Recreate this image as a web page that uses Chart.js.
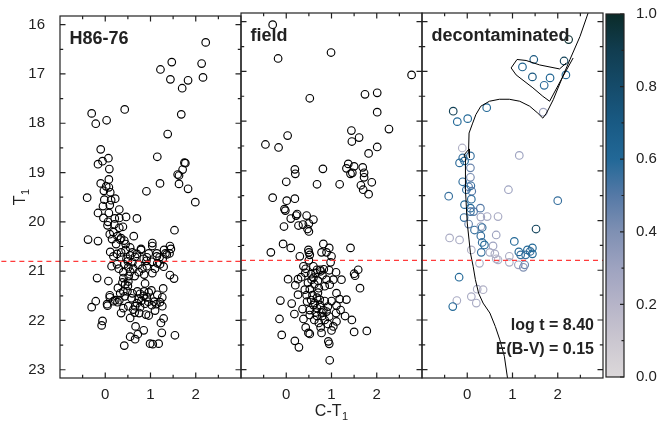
<!DOCTYPE html>
<html><head><meta charset="utf-8">
<script src="https://cdn.jsdelivr.net/npm/chart.js@4.4.1/dist/chart.umd.min.js"></script>
<style>
html,body{margin:0;padding:0;background:#fff;}
#wrap{position:relative;width:661px;height:421px;overflow:hidden;background:#fff;}
#wrap canvas{position:absolute;left:0;top:0;}
</style></head><body>
<div id="wrap">
<canvas id="p1" width="661" height="421"></canvas>
<canvas id="p2" width="661" height="421"></canvas>
<canvas id="p3" width="661" height="421"></canvas>
<canvas id="cb" width="661" height="421"></canvas>
</div>
<script>
// ---------------- DATA ----------------
const T1_CUT = 20.8;
const panelTitles = ['H86-76', 'field', 'decontaminated'];
const fitLabels = ['log t = 8.40', 'E(B-V) = 0.15'];
const xTickValues = [0, 1, 2];
const yTickValues = [16, 17, 18, 19, 20, 21, 22, 23];
const cbTickValues = [0, 0.2, 0.4, 0.6, 0.8, 1.0];

// cluster field (C-T1, T1)
const clusterStars = [
[2.22,16.36],[1.47,16.76],[1.22,16.91],[2.13,16.79],[1.44,17.11],[1.83,17.13],[2.16,17.07],[1.70,17.29],
[-0.30,17.80],[-0.21,18.01],[0.03,17.94],[0.43,17.72],[1.68,17.82],[1.38,18.22],
[-0.10,18.53],[-0.16,18.83],[-0.06,18.77],[0.07,18.71],[0.09,18.93],[1.15,18.68],[1.75,18.80],[1.77,18.81],
[1.71,18.94],[1.60,19.04],[1.63,19.06],[1.21,19.22],[1.63,19.23],[1.83,19.33],
[-0.10,19.22],[0.08,19.14],[0.08,19.30],[-0.03,19.37],[0.11,19.40],[0.91,19.38],[1.99,19.60],[-0.40,19.51],
[0.22,19.53],[0.13,19.56],[0.31,19.75],
[-0.05,19.68],[0.10,19.66],[-0.16,19.82],[-0.04,19.92],[0.06,20.00],[0.21,19.93],[0.31,19.92],[0.46,19.90],
[0.05,20.07],[0.18,20.21],[0.31,20.12],[0.39,20.10],[0.70,19.93],[-0.38,20.36],[-0.16,20.39],[0.63,20.29],
[0.27,20.29],[0.35,20.33],[1.53,20.17],[1.04,20.43],[1.04,20.49],[1.43,20.49],[1.30,20.57],[1.14,20.64],
[1.33,20.64],[1.42,20.64],[1.27,20.75],[1.15,20.84],[1.29,20.91],[0.11,20.61],[0.26,20.65],[0.35,20.62],
[0.45,20.57],[0.55,20.52],[0.60,20.62],[0.79,20.57],[0.96,20.64],[0.66,20.71],[0.47,20.75],[0.26,20.86],
[0.42,20.86],[0.60,20.82],[0.73,20.87],[0.91,20.79],[1.03,20.81],[0.92,20.90],[1.04,21.04],[0.74,21.02],
[0.55,21.01],[0.51,20.92],[0.40,21.02],[0.86,21.07],[1.43,21.08],[1.52,21.15],[-0.18,21.14],[0.07,21.20],
[0.40,21.14],[0.38,21.23],[0.44,21.27],[0.51,21.21],[0.28,21.34],[0.40,21.41],[0.49,21.41],[0.43,21.51],
[0.71,21.41],[0.77,21.46],[0.86,21.41],[0.96,21.43],[1.02,21.39],[1.28,21.35],[0.74,21.56],[0.92,21.53],
[1.26,21.53],[1.21,21.63],[0.10,21.53],[0.18,21.61],[0.27,21.63],[-0.21,21.61],[-0.30,21.73],[0.05,21.70],
[0.51,21.71],[0.66,21.71],[0.77,21.73],[0.88,21.66],[1.03,21.69],[1.13,21.67],[1.26,21.71],[0.65,21.84],
[0.90,21.88],[0.96,21.90],[-0.06,22.01],[-0.08,22.10],[1.29,21.96],[1.23,22.05],[0.67,22.12],[0.85,22.20],
[0.72,22.28],[1.25,22.25],[0.55,22.33],[0.66,22.38],[1.54,22.30],[0.42,22.51],[0.99,22.47],[1.05,22.48],
[1.18,22.47],
[0.33,20.36],[0.79,20.55],[1.45,20.55],[0.92,20.72],[1.14,20.70],[1.36,20.66],[1.21,20.86],
[0.10,21.49],[0.04,21.67],[0.22,21.59],[0.31,21.59],
[0.35,20.72],[0.50,20.80],[0.62,20.95],[0.82,20.95],[0.70,20.65],[0.55,20.68],[0.85,20.75],[0.65,21.10],
[0.60,21.45],[0.80,21.60],[0.70,21.65],[0.95,21.62],[0.58,21.55],[0.85,21.50],[0.62,21.78],[0.75,21.85],
[1.08,21.62],[0.52,21.10],[0.33,21.45],[0.30,20.95],[0.18,20.70],[0.50,21.30],[0.15,20.35],[0.20,20.05],
[0.08,19.82],[-0.02,19.55],[0.02,19.28],[0.10,20.25],[0.24,20.45],[0.42,20.38],[0.14,20.90],[1.10,20.95],
[1.20,20.72],[0.88,21.25],[1.15,21.48],[0.35,21.85],[0.55,21.95],[0.40,21.75],[1.10,21.80],[0.45,20.45]
];

// comparison field (C-T1, T1)
const fieldStars = [
[-0.30,16.06],[-0.18,16.74],[0.99,16.62],[2.77,17.07],[0.52,17.54],[1.74,17.46],[2.01,17.43],[2.01,17.82],
[1.44,18.19],[1.61,18.33],[1.45,18.41],[2.27,18.16],[2.01,18.52],[1.82,18.65],[0.03,18.29],[-0.46,18.47],
[-0.17,18.53],[0.19,18.97],[0.20,19.06],[0.81,18.96],
[1.37,18.86],[1.33,18.95],[1.50,18.91],[1.42,19.06],[1.69,18.93],[1.72,19.04],[1.72,19.13],[1.65,19.29],
[1.70,19.38],[1.89,19.23],[1.82,19.47],[1.46,19.04],
[0.00,19.22],[0.68,19.27],[1.18,19.27],[-0.30,19.54],[0.01,19.60],[0.19,19.56],[-0.04,19.77],
[-0.02,19.80],[0.10,19.96],[0.22,19.90],[0.45,19.90],[0.60,19.98],[-0.05,20.12],[0.27,20.10],[0.50,20.06],
[0.47,20.17],[0.50,20.22],[-0.07,20.47],[0.10,20.55],[-0.34,20.64],[0.30,20.72],[0.49,20.59],[0.50,20.64],
[0.52,20.69],[0.82,20.47],[0.95,20.55],[0.78,20.64],[0.89,20.64],[1.00,20.72],[1.42,20.55],[0.98,20.84],
[0.38,20.92],[0.43,20.97],[0.75,20.99],[0.68,20.99],[0.76,21.02],[0.83,20.98],[0.95,21.00],[1.10,21.04],
[0.04,21.18],[0.26,21.18],[0.33,21.14],[0.56,21.19],[0.70,21.21],[0.89,21.19],[1.04,21.19],[1.22,21.19],
[1.50,21.07],[1.59,20.99],[1.52,21.11],[1.63,21.36],[0.41,21.39],[0.52,21.38],[0.72,21.36],[0.96,21.29],
[1.11,21.46],[0.26,21.49],[-0.13,21.61],[0.12,21.67],[0.46,21.63],[0.63,21.66],[0.74,21.59],[0.92,21.73],
[1.11,21.71],[1.33,21.59],[1.18,21.58],[0.36,21.78],[0.52,21.80],[0.68,21.76],[0.89,21.83],[0.18,21.88],
[0.52,21.90],[0.68,21.92],[0.80,21.92],[0.95,21.93],[1.10,21.86],[1.30,21.92],[1.45,22.00],[-0.15,21.98],
[0.38,21.98],[0.72,22.06],[0.92,22.08],[1.11,22.03],[0.43,22.15],[0.49,22.26],[0.52,22.28],[0.78,22.26],
[1.00,22.21],[1.04,22.13],[0.76,22.15],[1.50,22.24],[1.78,22.22],[-0.10,22.30],[0.19,22.42],[0.28,22.55],
[0.93,22.43],[0.95,22.48],[0.96,22.81],
[0.24,19.87],[0.37,20.08],
[0.60,20.92],[0.65,21.05],[0.55,21.08],[0.80,21.10],[0.62,21.28],[0.48,21.25],[0.85,21.32],[0.58,21.50],
[0.68,21.55],[0.60,21.70],[0.75,21.70],[0.85,21.62],[0.65,21.85],[0.82,21.80],[0.55,21.60],[0.70,21.45],
[0.78,21.85],[1.00,21.62],[0.62,22.00],[0.85,22.00],[0.45,21.50],[1.20,21.80],[0.42,21.05],[0.50,20.80],
[0.20,21.30],[0.60,21.15]
];

// decontaminated (C-T1, T1, membership probability)
const deconStars = [
[2.24,16.36,0.98],[1.47,16.76,0.72],[1.22,16.91,0.64],[2.14,16.79,0.86],[1.44,17.11,0.72],[1.83,17.13,0.62],
[2.18,17.07,0.60],[1.70,17.28,0.58],[-0.31,17.80,0.88],[-0.22,18.01,0.60],[0.01,17.95,0.60],[0.43,17.73,0.60],
[1.68,17.82,0.30],[1.15,18.69,0.30],[-0.11,18.54,0.22],[-0.10,18.74,0.56],[-0.17,18.84,0.58],[-0.06,18.80,0.60],
[0.07,18.70,0.56],[0.07,18.94,0.45],[0.07,19.13,0.42],[-0.10,19.22,0.58],[0.03,19.32,0.50],[0.91,19.38,0.30],
[2.00,19.60,0.56],[-0.41,19.51,0.56],[0.09,19.57,0.58],[-0.06,19.68,0.60],[0.07,19.75,0.60],[0.29,19.75,0.50],
[0.08,19.30,0.55],[-0.02,19.38,0.58],[0.10,19.41,0.50],[0.07,19.82,0.55],[0.14,19.82,0.50],
[0.30,19.93,0.30],[0.44,19.92,0.26],[0.68,19.92,0.26],[-0.07,19.94,0.56],[0.03,20.07,0.45],[0.16,20.19,0.56],
[0.30,20.12,0.30],[0.33,20.14,0.56],[0.30,20.31,0.56],[0.33,20.44,0.56],[0.38,20.49,0.60],[0.31,20.64,0.56],
[0.64,20.29,0.30],[0.57,20.51,0.30],[0.61,20.67,0.25],[0.50,20.64,0.25],[0.64,20.77,0.22],[0.68,20.79,0.22],
[0.27,20.86,0.25],[0.09,20.59,0.22],[-0.39,20.35,0.25],[-0.17,20.39,0.25],
[1.52,20.17,0.85],[1.04,20.42,0.60],[1.14,20.63,0.60],[1.33,20.59,0.60],[1.44,20.55,0.60],[1.39,20.62,0.56],
[1.29,20.69,0.56],[1.44,20.67,0.60],[1.18,20.69,0.56],[0.93,20.72,0.25],[0.93,20.84,0.25],[1.13,20.89,0.30],
[1.27,20.89,0.45],[1.24,20.94,0.40],[-0.18,21.14,0.60],[0.22,21.38,0.25],[0.35,21.39,0.22],[0.09,21.53,0.25],
[0.20,21.66,0.25],[-0.23,21.61,0.25],[-0.32,21.73,0.60]
];

// isochrone (log t = 8.40): main sequence -> RGB, and He-burning loop / AGB
const isoMain = [
[0.93,23.40],[0.89,23.17],[0.82,22.73],[0.72,22.40],[0.62,22.13],[0.50,21.86],[0.35,21.66],[0.25,21.46],
[0.18,21.19],[0.13,20.92],[0.07,20.65],[0.04,20.39],[0.00,20.05],[-0.02,19.72],[-0.04,19.38],[-0.04,19.00],
[-0.04,18.75],[-0.07,18.68],[0.04,18.56],[0.05,18.74],[0.03,18.58],[0.04,18.24],[0.12,18.04],[0.19,17.87],
[0.30,17.70],[0.49,17.60],[0.71,17.56],[0.93,17.56],[1.16,17.60],[1.38,17.70],[1.56,17.84],[1.67,17.94],
[1.75,17.84],[1.90,17.57],[2.08,17.17],[2.27,16.76],[2.49,16.30],[2.70,15.75]
];
const isoLoop = [
[2.19,16.83],[2.04,16.95],[1.60,16.87],[1.30,16.78],[1.10,16.76],[0.97,16.93],[1.08,17.07],[1.45,17.33],
[1.67,17.50],[1.82,17.60],[2.08,17.16],[2.34,16.73]
];

// colour map of the colour bar (value, colour)
const cmapStops = [
[0.0,'#dcd8da'],[0.1,'#cbc7d0'],[0.2,'#b6b4c8'],[0.3,'#9ea3c0'],[0.4,'#7f90b3'],[0.5,'#5579a6'],
[0.6,'#226897'],[0.7,'#195a84'],[0.8,'#154b6a'],[0.9,'#113d50'],[1.0,'#0b2b29']
];

// ---------------- STYLE / LAYOUT ----------------
const FONT = '"Liberation Sans", Arial, Helvetica, sans-serif';
const INK = '#222222';
const X_RANGE = [-1, 3];
const Y_RANGE = [15.825, 23.167];
const AREAS = { // chart area rectangles [left, top, right, bottom]
  p1: [60, 13, 241, 378], p2: [241, 13, 422, 378], p3: [422, 13, 603, 378], cb: [606, 14, 624, 377]
};
const W = 661, H = 421;

function hexToRgb(h){ const n=parseInt(h.slice(1),16); return [(n>>16)&255,(n>>8)&255,n&255]; }
function cmap(v){
  v = Math.max(0, Math.min(1, v));
  for (let i=1;i<cmapStops.length;i++){
    const [v1,c1]=cmapStops[i-1],[v2,c2]=cmapStops[i];
    if (v<=v2){ const t=(v-v1)/(v2-v1); const a=hexToRgb(c1), b=hexToRgb(c2);
      return 'rgb('+a.map((x,k)=>Math.round(x+(b[k]-x)*t)).join(',')+')'; }
  }
  return cmapStops[cmapStops.length-1][1];
}

const framePlugin = {
  id: 'frame',
  afterDatasetsDraw(chart, args, o) {
    const {ctx, chartArea:a} = chart;
    ctx.save();
    ctx.strokeStyle = INK; ctx.lineWidth = 1.2;
    ctx.beginPath();
    const xs = chart.scales.x, ys = chart.scales.y;
    const tick = (vals, len, fn) => vals.forEach(v => fn(v, len));
    if (o.xMajor) {
      const f = (v,len)=>{ const p = xs.getPixelForValue(v);
        ctx.moveTo(p,a.bottom); ctx.lineTo(p,a.bottom-len); ctx.moveTo(p,a.top); ctx.lineTo(p,a.top+len); };
      tick(o.xMajor, 5.5, f); tick(o.xMinor, 3.2, f);
    }
    if (o.yMajor) {
      const f = (v,len)=>{ const p = ys.getPixelForValue(v);
        if (o.ySides.includes('l')) { ctx.moveTo(a.left,p); ctx.lineTo(a.left+len,p); }
        if (o.ySides.includes('r')) { ctx.moveTo(a.right,p); ctx.lineTo(a.right-len,p); } };
      tick(o.yMajor, o.yMajorLen||5.5, f); tick(o.yMinor, o.yMinorLen||3.2, f);
    }
    ctx.stroke();
    ctx.strokeRect(a.left, a.top, a.right-a.left, a.bottom-a.top);
    ctx.restore();
  }
};

function drawSub(ctx, main, sub, x, y, size, align) {
  ctx.font = size+'px '+FONT;
  const w1 = ctx.measureText(main).width;
  ctx.font = Math.round(size*0.68)+'px '+FONT;
  const w2 = ctx.measureText(sub).width;
  const total = w1 + w2 + 0.5;
  let x0 = align==='center' ? x - total/2 : x;
  ctx.textAlign = 'left'; ctx.textBaseline = 'alphabetic';
  ctx.font = size+'px '+FONT; ctx.fillText(main, x0, y);
  ctx.font = Math.round(size*0.68)+'px '+FONT; ctx.fillText(sub, x0 + w1 + 0.5, y + size*0.22);
}

const annotPlugin = {
  id: 'annot',
  afterDraw(chart, args, o) {
    const {ctx, chartArea:a} = chart;
    ctx.save();
    ctx.fillStyle = INK;
    (o.items||[]).forEach(it => {
      ctx.font = it.font; ctx.textBaseline = 'alphabetic';
      ctx.textAlign = it.right ? 'right' : 'left';
      ctx.fillText(it.text, it.right ? a.right - it.dx : a.left + it.dx, a.top + it.dy);
    });
    if (o.xTitle) drawSub(ctx, 'C-T', '1', (a.left+a.right)/2, a.bottom + 38, 16, 'center');
    if (o.yTitle) {
      ctx.save(); ctx.translate(a.left - 35, (a.top+a.bottom)/2); ctx.rotate(-Math.PI/2);
      drawSub(ctx, 'T', '1', 0, 0, 16, 'center'); ctx.restore();
    }
    ctx.restore();
  }
};

function scatterData(arr){ return arr.map(p => ({x:p[0], y:p[1]})); }

// scale boxes occupy the margins (so tick labels are not clipped), padding covers the rest
function layoutFor(r) { return {left:0, top:r[1], right:W-r[2], bottom:0}; }

function panelConfig(idx, stars, colors, extra) {
  const area = AREAS['p'+(idx+1)];
  const cutStart = idx===0 ? X_RANGE[0] - area[0]/((area[2]-area[0])/(X_RANGE[1]-X_RANGE[0])) + 0.03 : X_RANGE[0];
  const datasets = [
    { data: [{x:cutStart, y:T1_CUT},{x:X_RANGE[1], y:T1_CUT}], showLine:true, borderColor:'#ff3b3b',
      borderWidth:1.3, borderDash:[5,4], pointRadius:0, clip: idx===0 ? {left:area[0], top:0, right:0, bottom:0} : 0 },
    ...(extra||[]),
    { data: scatterData(stars), showLine:false, pointRadius:3.8, pointHoverRadius:3.8, pointBorderWidth:1.15,
      pointBorderColor: colors, pointBackgroundColor:'rgba(0,0,0,0)', borderColor: colors, backgroundColor:'rgba(0,0,0,0)' }
  ];
  const items = [{text: panelTitles[idx], dx: 9.5, dy: 27.5, font: 'bold 18px '+FONT}];
  if (idx===2) {
    items.push({text: fitLabels[0], dx: 9, dy: 316.5, font: 'bold 16px '+FONT, right:true});
    items.push({text: fitLabels[1], dx: 9, dy: 340.5, font: 'bold 16px '+FONT, right:true});
  }
  return {
    type: 'scatter',
    data: { datasets },
    options: {
      responsive:false, animation:false, events:[],
      layout: { padding: layoutFor(area) },
      plugins: { legend:{display:false}, tooltip:{enabled:false},
        frame: { xMajor:xTickValues, xMinor:[-0.5,0.5,1.5,2.5],
                 yMajor:yTickValues, yMinor:[16.5,17.5,18.5,19.5,20.5,21.5,22.5], ySides:'lr' },
        annot: { items, xTitle: idx===1, yTitle: idx===0 } },
      scales: {
        x: { type:'linear', min:X_RANGE[0], max:X_RANGE[1],
             afterBuildTicks: s => { s.ticks = xTickValues.map(v=>({value:v})); },
             afterFit: s => { s.height = H - area[3]; },
             grid:{display:false}, border:{display:false},
             ticks:{ padding:0, color:INK, font:{family:FONT, size:15}, autoSkip:false, maxRotation:0,
                     callback: v => String(v) } },
        y: { type:'linear', reverse:true, min:Y_RANGE[0], max:Y_RANGE[1],
             afterBuildTicks: s => { s.ticks = yTickValues.map(v=>({value:v})); },
             afterFit: s => { s.width = area[0]; },
             grid:{display:false}, border:{display:false},
             ticks:{ display: idx===0, padding:7, color:INK, font:{family:FONT, size:15}, autoSkip:false,
                     callback: v => String(v) } }
      }
    },
    plugins: [framePlugin, annotPlugin]
  };
}

new Chart(document.getElementById('p1'), panelConfig(0, clusterStars, '#000000'));
new Chart(document.getElementById('p2'), panelConfig(1, fieldStars, '#000000'));
new Chart(document.getElementById('p3'), panelConfig(2, deconStars, deconStars.map(p => cmap(p[2])), [
  { data: scatterData(isoMain), showLine:true, borderColor:'#000', borderWidth:1, pointRadius:0, tension:0 },
  { data: scatterData(isoLoop), showLine:true, borderColor:'#000', borderWidth:1, pointRadius:0, tension:0 }
]));

// colour bar
const cbArea = AREAS.cb;
new Chart(document.getElementById('cb'), {
  type: 'bar',
  data: { labels: ['P'], datasets: [{ data: [1], borderWidth:0, barPercentage:1, categoryPercentage:1,
    backgroundColor: c => { const ch = c.chart, a = ch.chartArea; if (!a) return '#ccc';
      const g = ch.ctx.createLinearGradient(0, a.bottom, 0, a.top);
      cmapStops.forEach(([v,col]) => g.addColorStop(v, col)); return g; } }] },
  options: {
    responsive:false, animation:false, events:[],
    layout: { padding: {left:cbArea[0], top:cbArea[1], right:0, bottom:H-cbArea[3]} },
    plugins: { legend:{display:false}, tooltip:{enabled:false},
      frame: { yMajor: cbTickValues, yMinor:[0.1,0.3,0.5,0.7,0.9], ySides:'r', yMajorLen:4, yMinorLen:2.5 } },
    scales: {
      x: { display:false },
      y: { position:'right', min:0, max:1,
           afterBuildTicks: s => { s.ticks = cbTickValues.map(v=>({value:v})); },
           afterFit: s => { s.width = W - cbArea[2]; },
           grid:{display:false}, border:{display:false},
           ticks:{ padding:4, color:INK, font:{family:FONT, size:15}, autoSkip:false, callback: v => v.toFixed(1) } }
    }
  },
  plugins: [framePlugin]
});
</script>
</body></html>
